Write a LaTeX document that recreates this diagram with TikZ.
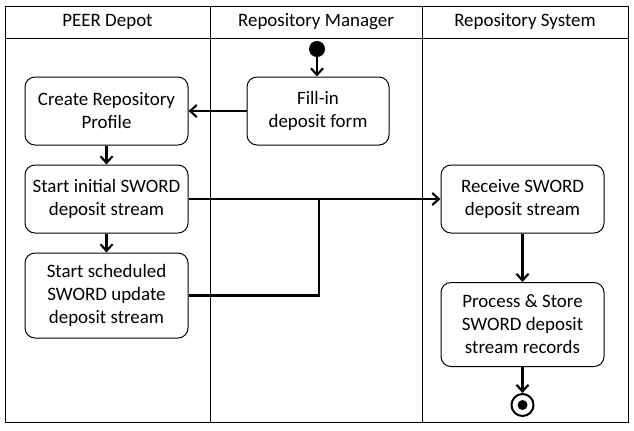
\documentclass[tikz,border=0pt]{standalone}
\usepackage{fontspec}
\setmainfont{Carlito}
\usetikzlibrary{arrows.meta}
\begin{document}
\begin{tikzpicture}[x=0.75pt,y=-0.75pt,
  act/.style={draw, rounded corners=7.5pt, line width=0.75pt, minimum width=163*0.75pt, align=center, inner sep=0pt, font=\fontsize{14.2}{17.3}\selectfont},
  hdr/.style={font=\fontsize{14.2}{17.3}\selectfont, anchor=center},
  flow/.style={line width=2.2pt, -{Straight Barb[length=5pt,width=9pt,line width=1.6pt]}},
  flowline/.style={line width=2.2pt}]
\useasboundingbox (0,0) rectangle (634,430);
% swimlane frame
\draw[line width=0.75pt] (5,6) rectangle (628,422);
\draw[line width=0.75pt] (5,38) -- (628,38);
\draw[line width=0.75pt] (210,6) -- (210,422);
\draw[line width=0.75pt] (422,6) -- (422,422);
\node[hdr] (h1) at (107.5,22) {PEER Depot};
\node[hdr] (h2) at (316,22) {Repository Manager};
\node[hdr] (h3) at (525,22) {Repository System};
% nodes
\node[circle, fill=black, inner sep=0pt, minimum size=16*0.75pt] (start) at (317,49) {};
\node[act, minimum width=142*0.75pt, minimum height=68*0.75pt] (fill) at (318,111) {Fill-in\\deposit form};
\node[act, minimum height=68*0.75pt] (create) at (106.5,111) {Create Repository\\Profile};
\node[act, minimum height=68*0.75pt] (init) at (106.5,199) {Start initial SWORD\\deposit stream};
\node[act, minimum height=85*0.75pt] (sched) at (106.5,295.5) {Start scheduled\\SWORD update\\deposit stream};
\node[act, minimum height=68*0.75pt] (recv) at (522.5,199) {Receive SWORD\\deposit stream};
\node[act, minimum height=84*0.75pt] (proc) at (522.5,324.5) {Process \& Store\\SWORD deposit\\stream records};
\node[circle, draw, line width=1.5pt, minimum size=22*0.75pt, inner sep=0pt] (end) at (522.5,405) {};
\node[circle, fill=black, minimum size=10*0.75pt, inner sep=0pt] (endin) at (end.center) {};
\coordinate (j) at (319,199);
% connectors
\draw[flow] (start) -- (start |- fill.north);
\draw[flow] (fill) -- (create);
\draw[flow] (create) -- (init);
\draw[flow] (init) -- (sched);
\draw[flow] (init) -- (recv);
\draw[flowline] (sched.east) -| (j);
\draw[flow] (recv) -- (proc);
\draw[flow] (proc) -- (end);
\end{tikzpicture}
\end{document}
